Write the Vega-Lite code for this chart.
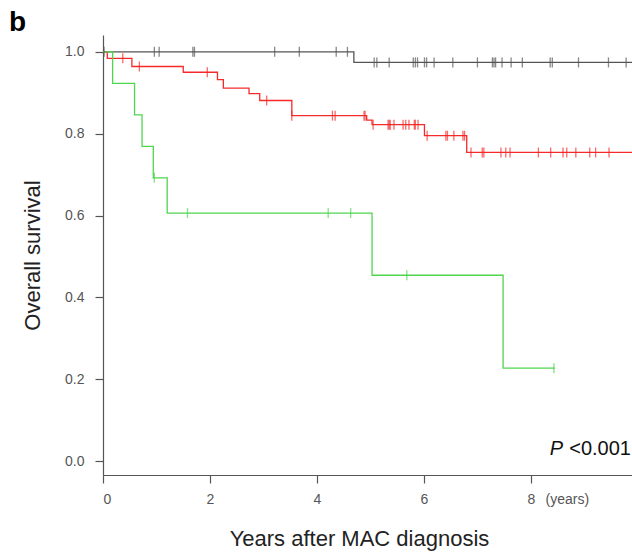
{
  "$schema": "https://vega.github.io/schema/vega-lite/v6.json",
  "width": 529,
  "height": 440,
  "autosize": {"type": "none"},
  "padding": {"left": 103, "top": 35, "right": 0, "bottom": 81},
  "background": "white",
  "config": {"view": {"stroke": null}, "font": "Liberation Sans"},
  "title": {"text": "b", "anchor": "start", "frame": "group", "fontSize": 28, "fontWeight": "bold", "font": "Liberation Sans", "color": "#000000", "dx": -94, "dy": 24, "offset": 0, "baseline": "alphabetic"},
  "datasets": {
    "curves": [
      {"g": "black", "t": 0, "s": 1.0},
      {"g": "black", "t": 4.69, "s": 0.974},
      {"g": "black", "t": 9.89, "s": 0.974},
      {"g": "red", "t": 0, "s": 1.0},
      {"g": "red", "t": 0.08, "s": 0.984},
      {"g": "red", "t": 0.54, "s": 0.964},
      {"g": "red", "t": 1.50, "s": 0.950},
      {"g": "red", "t": 2.14, "s": 0.932},
      {"g": "red", "t": 2.25, "s": 0.911},
      {"g": "red", "t": 2.73, "s": 0.898},
      {"g": "red", "t": 2.93, "s": 0.881},
      {"g": "red", "t": 3.53, "s": 0.844},
      {"g": "red", "t": 4.93, "s": 0.833},
      {"g": "red", "t": 5.03, "s": 0.822},
      {"g": "red", "t": 6.01, "s": 0.795},
      {"g": "red", "t": 6.80, "s": 0.754},
      {"g": "red", "t": 9.89, "s": 0.754},
      {"g": "green", "t": 0, "s": 1.0},
      {"g": "green", "t": 0.18, "s": 0.923},
      {"g": "green", "t": 0.59, "s": 0.846},
      {"g": "green", "t": 0.73, "s": 0.769},
      {"g": "green", "t": 0.94, "s": 0.692},
      {"g": "green", "t": 1.20, "s": 0.606},
      {"g": "green", "t": 5.03, "s": 0.454},
      {"g": "green", "t": 7.48, "s": 0.227},
      {"g": "green", "t": 8.45, "s": 0.227}
    ],
    "censors": [
      {"g": "black", "t": 0.02, "s": 1.0},
      {"g": "black", "t": 0.96, "s": 1.0},
      {"g": "black", "t": 1.05, "s": 1.0},
      {"g": "black", "t": 1.68, "s": 1.0},
      {"g": "black", "t": 1.71, "s": 1.0},
      {"g": "black", "t": 3.21, "s": 1.0},
      {"g": "black", "t": 3.67, "s": 1.0},
      {"g": "black", "t": 4.36, "s": 1.0},
      {"g": "black", "t": 4.57, "s": 1.0},
      {"g": "black", "t": 5.07, "s": 0.974},
      {"g": "black", "t": 5.12, "s": 0.974},
      {"g": "black", "t": 5.35, "s": 0.974},
      {"g": "black", "t": 5.80, "s": 0.974},
      {"g": "black", "t": 5.84, "s": 0.974},
      {"g": "black", "t": 5.88, "s": 0.974},
      {"g": "black", "t": 6.01, "s": 0.974},
      {"g": "black", "t": 6.05, "s": 0.974},
      {"g": "black", "t": 6.19, "s": 0.974},
      {"g": "black", "t": 6.54, "s": 0.974},
      {"g": "black", "t": 7.00, "s": 0.974},
      {"g": "black", "t": 7.28, "s": 0.974},
      {"g": "black", "t": 7.31, "s": 0.974},
      {"g": "black", "t": 7.34, "s": 0.974},
      {"g": "black", "t": 7.46, "s": 0.974},
      {"g": "black", "t": 7.63, "s": 0.974},
      {"g": "black", "t": 7.84, "s": 0.974},
      {"g": "black", "t": 8.36, "s": 0.974},
      {"g": "black", "t": 8.40, "s": 0.974},
      {"g": "black", "t": 8.89, "s": 0.974},
      {"g": "black", "t": 9.45, "s": 0.974},
      {"g": "black", "t": 9.78, "s": 0.974},
      {"g": "red", "t": 0.37, "s": 0.984},
      {"g": "red", "t": 0.68, "s": 0.964},
      {"g": "red", "t": 1.95, "s": 0.950},
      {"g": "red", "t": 3.06, "s": 0.881},
      {"g": "red", "t": 3.53, "s": 0.844},
      {"g": "red", "t": 4.29, "s": 0.844},
      {"g": "red", "t": 4.34, "s": 0.844},
      {"g": "red", "t": 4.88, "s": 0.844},
      {"g": "red", "t": 4.90, "s": 0.844},
      {"g": "red", "t": 5.05, "s": 0.822},
      {"g": "red", "t": 5.33, "s": 0.822},
      {"g": "red", "t": 5.35, "s": 0.822},
      {"g": "red", "t": 5.37, "s": 0.822},
      {"g": "red", "t": 5.44, "s": 0.822},
      {"g": "red", "t": 5.61, "s": 0.822},
      {"g": "red", "t": 5.66, "s": 0.822},
      {"g": "red", "t": 5.72, "s": 0.822},
      {"g": "red", "t": 5.82, "s": 0.822},
      {"g": "red", "t": 5.84, "s": 0.822},
      {"g": "red", "t": 5.89, "s": 0.822},
      {"g": "red", "t": 6.06, "s": 0.795},
      {"g": "red", "t": 6.41, "s": 0.795},
      {"g": "red", "t": 6.44, "s": 0.795},
      {"g": "red", "t": 6.56, "s": 0.795},
      {"g": "red", "t": 6.73, "s": 0.795},
      {"g": "red", "t": 6.76, "s": 0.795},
      {"g": "red", "t": 6.88, "s": 0.754},
      {"g": "red", "t": 7.09, "s": 0.754},
      {"g": "red", "t": 7.12, "s": 0.754},
      {"g": "red", "t": 7.44, "s": 0.754},
      {"g": "red", "t": 7.53, "s": 0.754},
      {"g": "red", "t": 7.61, "s": 0.754},
      {"g": "red", "t": 8.14, "s": 0.754},
      {"g": "red", "t": 8.37, "s": 0.754},
      {"g": "red", "t": 8.60, "s": 0.754},
      {"g": "red", "t": 8.67, "s": 0.754},
      {"g": "red", "t": 8.84, "s": 0.754},
      {"g": "red", "t": 9.10, "s": 0.754},
      {"g": "red", "t": 9.21, "s": 0.754},
      {"g": "red", "t": 9.46, "s": 0.754},
      {"g": "green", "t": 0.96, "s": 0.692},
      {"g": "green", "t": 1.58, "s": 0.606},
      {"g": "green", "t": 4.21, "s": 0.606},
      {"g": "green", "t": 4.63, "s": 0.606},
      {"g": "green", "t": 5.68, "s": 0.454},
      {"g": "green", "t": 8.43, "s": 0.227}
    ]
  },
  "layer": [
    {
      "data": {"name": "curves"},
      "mark": {"type": "line", "interpolate": "step-after", "strokeWidth": 1.3},
      "encoding": {
        "x": {
          "field": "t", "type": "quantitative",
          "scale": {"domain": [0, 9.89], "nice": false, "zero": false},
          "axis": {
            "values": [0, 2, 4, 6, 8], "format": "d", "grid": false,
            "title": "Years after MAC diagnosis", "titleFontSize": 22, "titleFontWeight": "normal",
            "titleColor": "#222222", "titlePadding": 22, "titleFont": "Liberation Sans", "titleX": 256,
            "labelFontSize": 14, "labelColor": "#555555", "labelPadding": 9, "labelFont": "Liberation Sans",
            "tickSize": 8, "tickColor": "#555555", "domainColor": "#555555", "domainWidth": 1.2, "tickWidth": 1.2
          }
        },
        "y": {
          "field": "s", "type": "quantitative",
          "scale": {"domain": [-0.034, 1.041], "nice": false, "zero": false},
          "axis": {
            "values": [0, 0.2, 0.4, 0.6, 0.8, 1.0], "format": ".1f", "grid": false,
            "title": "Overall survival", "titleFontSize": 22, "titleFontWeight": "normal",
            "titleColor": "#222222", "titlePadding": 20, "titleFont": "Liberation Sans",
            "labelFontSize": 14, "labelColor": "#555555", "labelPadding": 11, "labelFont": "Liberation Sans",
            "tickSize": 8, "tickColor": "#555555", "domainColor": "#555555", "domainWidth": 1.2, "tickWidth": 1.2
          }
        },
        "color": {
          "field": "g", "type": "nominal",
          "scale": {"domain": ["black", "red", "green"], "range": ["#555555", "#f52a2a", "#4fd64f"]},
          "legend": null
        }
      }
    },
    {
      "data": {"name": "censors"},
      "mark": {"type": "tick", "orient": "vertical", "size": 10, "thickness": 1.3},
      "encoding": {
        "x": {"field": "t", "type": "quantitative"},
        "y": {"field": "s", "type": "quantitative"},
        "color": {"field": "g", "type": "nominal", "legend": null}
      }
    },
    {
      "data": {"values": [{}]},
      "mark": {"type": "text", "align": "right", "baseline": "alphabetic", "fontSize": 20, "fontStyle": "italic", "font": "Liberation Sans", "color": "#111111"},
      "encoding": {"x": {"datum": 8.6}, "y": {"datum": 0.015}, "text": {"value": "P"}}
    },
    {
      "data": {"values": [{}]},
      "mark": {"type": "text", "align": "right", "baseline": "alphabetic", "fontSize": 20, "font": "Liberation Sans", "color": "#111111"},
      "encoding": {"x": {"datum": 9.87}, "y": {"datum": 0.015}, "text": {"value": "<0.001"}}
    },
    {
      "data": {"values": [{}]},
      "mark": {"type": "text", "align": "center", "baseline": "middle", "fontSize": 14, "font": "Liberation Sans", "color": "#555555"},
      "encoding": {"x": {"datum": 8.68}, "y": {"datum": -0.095}, "text": {"value": "(years)"}}
    }
  ]
}
